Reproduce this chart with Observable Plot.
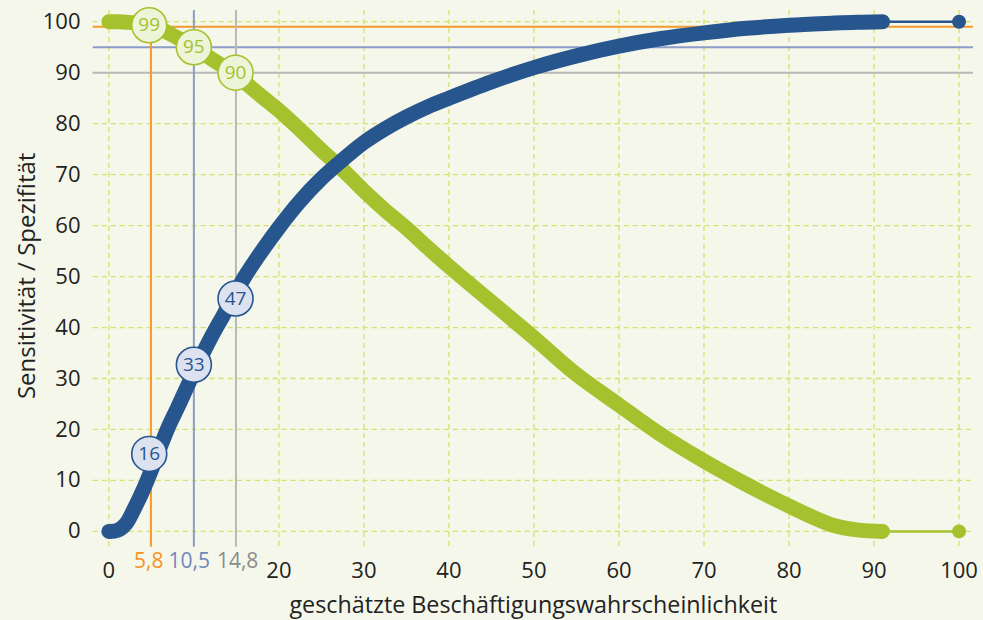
<!DOCTYPE html>
<html><head><meta charset="utf-8">
<script src="https://cdn.jsdelivr.net/npm/d3@7"></script>
<script src="https://cdn.jsdelivr.net/npm/@observablehq/plot@0.6"></script>
<style>html,body{margin:0;padding:0;background:#f5f7ea;}</style>
</head><body><div id="chart"></div>
<script>
// threshold (geschätzte Beschäftigungswahrscheinlichkeit, %)
const thresholds  = [0, 1, 2, 3, 4, 5, 5.8, 7, 8, 9, 10.5, 12, 13.5, 14.8, 16, 18, 20, 22.5, 25, 27, 30, 32.5, 35, 37.5, 40, 45, 50, 55, 60, 65, 70, 75, 80, 85, 88, 91, 100];
const sensitivity = [0, 0.2, 1.5, 4.5, 8, 12, 15.5, 20.5, 24, 27.6, 33, 38, 42.5, 46.5, 50, 55, 59.6, 64.8, 69.2, 72.2, 76.3, 79, 81.3, 83.3, 85, 88.2, 91, 93.3, 95.2, 96.7, 97.8, 98.7, 99.3, 99.7, 99.9, 100, 100];
const specificity = [100, 100, 99.9, 99.8, 99.6, 99.3, 98.9, 97.8, 96.9, 96, 94.5, 92.8, 91.2, 89.8, 88.1, 85.3, 82.6, 78.8, 74.8, 71.8, 66.8, 63, 59.5, 55.7, 52, 45, 38, 30.8, 24.8, 18.9, 13.8, 9.2, 5, 1.3, 0.3, 0, 0];

const xGrid = [0, 10, 20, 30, 40, 50, 60, 70, 80, 90, 100];
const xTickLabels = [0, 20, 30, 40, 50, 60, 70, 80, 90, 100];
const yTicks = [0, 10, 20, 30, 40, 50, 60, 70, 80, 90, 100];

const cutoffX = [4.95, 10, 14.95];
const cutoffLabelX = [4.7, 9.45, 15.15];
const cutoffLabels = ["5,8", "10,5", "14,8"];
const specLevels = [99, 95, 90];
const markerX = [4.75, 10, 14.9];
const sensAtCutoff = [15.2, 32.7, 45.7];
const specAtCutoff = [99.3, 95, 90];
const sensLabels = ["16", "33", "47"];
const specLabels = ["99", "95", "90"];

const xTitle = "geschätzte Beschäftigungswahrscheinlichkeit";
const yTitle = "Sensitivität / Spezifität";

const blue = "#27568f", green = "#a5c22e", gridColor = "#d3e26c";
const cutoffColors = ["#f39a2b", "#8c9dc9", "#b9b9b9"];
const cutoffTextColors = ["#f7931e", "#6f86bf", "#8c8c8c"];
const font = "Open Sans";

const rows = thresholds.map((t, i) => ({t, sens: sensitivity[i], spec: specificity[i]}));
const thick = rows.filter(d => d.t <= 91);
const tail = rows.filter(d => d.t >= 91);
const end = rows.filter(d => d.t === 100);
const idx = d3.range(3);

const chart = Plot.plot({
  width: 983, height: 620,
  marginLeft: 92.7, marginRight: 10, marginTop: 10, marginBottom: 73.3,
  x: {domain: [-1.84, 101.7], axis: null},
  y: {domain: [-3.1, 102.2], axis: null},
  color: {type: "identity"},
  style: {background: "#f5f7ea", fontFamily: font},
  marks: [
    Plot.ruleX(xGrid, {x: d => d, stroke: gridColor, strokeWidth: 1.3, strokeDasharray: "5,4"}),
    Plot.ruleY(yTicks, {y: d => d, stroke: gridColor, strokeWidth: 1.3, strokeDasharray: "5,4"}),
    Plot.ruleY(idx, {y: i => specLevels[i], stroke: i => cutoffColors[i], strokeWidth: 2}),
    Plot.ruleX(idx, {x: i => cutoffX[i], stroke: i => cutoffColors[i], strokeWidth: 2}),
    // specificity
    Plot.line(tail, {x: "t", y: "spec", stroke: green, strokeWidth: 2.5}),
    Plot.line(thick, {x: "t", y: "spec", stroke: green, strokeWidth: 15, strokeLinecap: "round", strokeLinejoin: "round", curve: "catmull-rom"}),
    Plot.dot(end, {x: "t", y: "spec", r: 7, fill: green}),
    // sensitivity
    Plot.line(tail, {x: "t", y: "sens", stroke: blue, strokeWidth: 2.5}),
    Plot.line(thick, {x: "t", y: "sens", stroke: blue, strokeWidth: 15, strokeLinecap: "round", strokeLinejoin: "round", curve: "catmull-rom"}),
    Plot.dot(end, {x: "t", y: "sens", r: 7, fill: blue}),
    // markers
    Plot.dot(idx, {x: i => markerX[i], y: i => specAtCutoff[i], r: 17.5, fill: "#eef4d8", stroke: green, strokeWidth: 1.6}),
    Plot.text(idx, {x: i => markerX[i], y: i => specAtCutoff[i], text: i => specLabels[i], fill: green, fontSize: 19, fontFamily: font}),
    Plot.dot(idx, {x: i => markerX[i], y: i => sensAtCutoff[i], r: 17.5, fill: "#dce2f0", stroke: blue, strokeWidth: 1.6}),
    Plot.text(idx, {x: i => markerX[i], y: i => sensAtCutoff[i], text: i => sensLabels[i], fill: blue, fontSize: 19, fontFamily: font}),
    // axes
    Plot.text(xTickLabels, {x: d => d, frameAnchor: "bottom", lineAnchor: "middle", dy: 24, text: d => String(d), fill: "#222", fontSize: 22, fontFamily: font}),
    Plot.text(idx, {x: i => cutoffLabelX[i], frameAnchor: "bottom", lineAnchor: "middle", dy: 14, text: i => cutoffLabels[i], fill: i => cutoffTextColors[i], fontSize: 21, fontFamily: font}),
    Plot.text(yTicks, {y: d => d, frameAnchor: "left", lineAnchor: "middle", dx: -12.7, textAnchor: "end", text: d => String(d), fill: "#222", fontSize: 22, fontFamily: font}),
    Plot.text([xTitle], {frameAnchor: "bottom", lineAnchor: "middle", dy: 58, fill: "#222", fontSize: 23.3, fontFamily: font}),
    Plot.text([yTitle], {frameAnchor: "left", lineAnchor: "middle", textAnchor: "middle", dx: -66, dy: -3, rotate: -90, fill: "#222", fontSize: 24, fontFamily: font})
  ]
});
document.getElementById("chart").appendChild(chart);
</script>
</body></html>
